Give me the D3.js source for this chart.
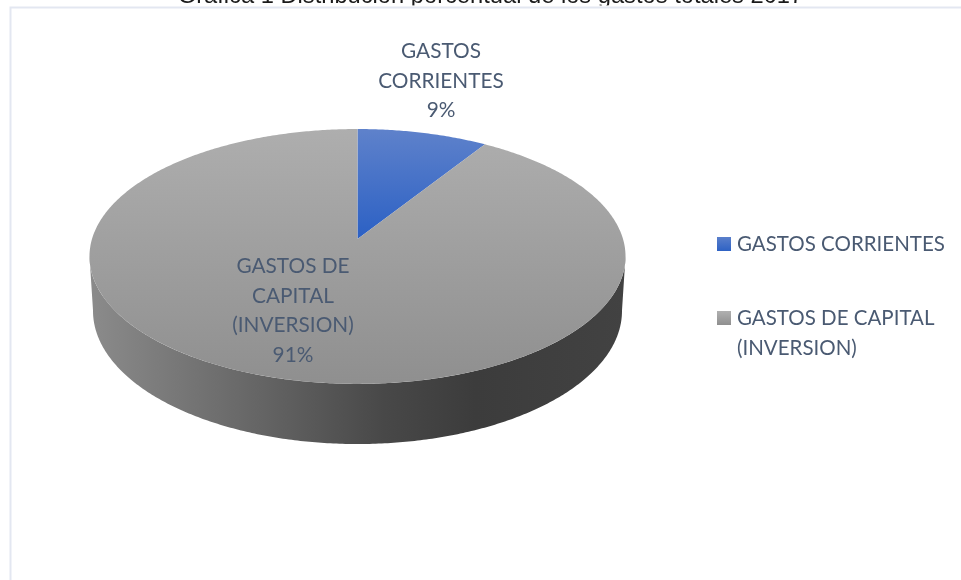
<!DOCTYPE html>
<html>
<head>
<meta charset="utf-8">
<script src="https://cdn.jsdelivr.net/npm/d3@7"></script>
<style>
  html, body { margin: 0; padding: 0; background: #fff; overflow: hidden; }
  svg { display: block; filter: blur(0.35px); }
  .lbl { font-family: Lato, sans-serif; fill: #4a5a72; }
</style>
</head>
<body>
<div id="chart"></div>
<script>
// Data
const titleText = "Gráfica 1 Distribución porcentual de los gastos totales 2017";
const categories = ["GASTOS CORRIENTES", "GASTOS DE CAPITAL (INVERSION)"];
const shares = [9, 91];
const labelLines = [["GASTOS", "CORRIENTES", "9%"], ["GASTOS DE", "CAPITAL", "(INVERSION)", "91%"]];
const legendLines = [["GASTOS CORRIENTES"], ["GASTOS DE CAPITAL", "(INVERSION)"]];

const width = 961;
const height = 580;

const svg = d3
  .select("#chart")
  .append("svg")
  .attr("width", width)
  .attr("height", height)
  .attr("viewBox", `0 0 ${width} ${height}`);

// Gradients
const defs = svg.append("defs");
function gradient(id, units, coords, stops) {
  const g = defs.append("linearGradient").attr("id", id).attr("gradientUnits", units);
  Object.entries(coords).forEach(([k, v]) => g.attr(k, v));
  stops.forEach(([o, c]) => g.append("stop").attr("offset", o).attr("stop-color", c));
}
gradient("topGrey", "userSpaceOnUse", { x1: 0, y1: 128, x2: 0, y2: 384 }, [[0, "#aeaeae"], [1, "#8f8f8f"]]);
gradient("topBlue", "userSpaceOnUse", { x1: 0, y1: 128, x2: 0, y2: 240 }, [[0, "#5f82cb"], [1, "#2b60c4"]]);
gradient("side", "userSpaceOnUse", { x1: 90, y1: 0, x2: 625, y2: 0 }, [
  [0, "#8b8b8b"], [0.3, "#676767"], [0.55, "#484848"], [0.72, "#3c3c3c"], [1, "#424242"],
]);
gradient("swBlue", "objectBoundingBox", { x1: 0, y1: 0, x2: 0, y2: 1 }, [[0, "#5a7fcb"], [1, "#2e62c4"]]);
gradient("swGrey", "objectBoundingBox", { x1: 0, y1: 0, x2: 0, y2: 1 }, [[0, "#b0b0b0"], [1, "#8f8f8f"]]);

// Title, clipped by the top edge of the picture and by the pasted chart below it
svg
  .append("text")
  .attr("x", 490.5)
  .attr("y", 3.2)
  .attr("text-anchor", "middle")
  .style("font-family", "'Liberation Sans', Arial, sans-serif")
  .style("font-size", "23.7px")
  .attr("fill", "#1a1a1a")
  .text(titleText);

svg
  .append("rect")
  .attr("x", 0)
  .attr("y", 5.4)
  .attr("width", width)
  .attr("height", height)
  .attr("fill", "#fff");

// Frame of the pasted chart, cut off by the picture on the right and bottom
svg
  .append("path")
  .attr("d", `M10.5,${height} V7.5 H${width}`)
  .attr("fill", "none")
  .attr("stroke", "#e3e7f1")
  .attr("stroke-width", 2);

// Perspective projection of the pie disc: angle 0 is up, clockwise
const topDisc = { cx: 357.5, b: 239, a: -92.3, k: 0.137, A: 265.5 };
const baseDisc = { cx: 357.5, b: 292.7, a: -90.5, k: 0.137, A: 262 };

function project(disc, t, r = 1) {
  const u = r * Math.sin(t);
  const v = r * Math.cos(t);
  const w = 1 + disc.k * v;
  return [disc.cx + (disc.A * u) / w, (disc.a * v + disc.b) / w];
}

function rimPoints(disc, t0, t1) {
  const steps = Math.max(2, Math.ceil(Math.abs(t1 - t0) / 0.01));
  return d3.range(steps + 1).map((i) => project(disc, t0 + ((t1 - t0) * i) / steps));
}

const path = d3.line();
const pie = d3.pie().sort(null);
const arcs = pie(shares);
const g = svg.append("g");

// Side wall: joins the widest points of the top rim and of the base rim
const wallFrom = (Math.PI * 97.7) / 180;
const wallTo = (Math.PI * 262.3) / 180;
g.append("path")
  .attr("d", path(rimPoints(topDisc, wallFrom, wallTo).concat(rimPoints(baseDisc, wallTo, wallFrom))) + "Z")
  .attr("fill", "url(#side)");

// Top face slices
const sliceFill = ["url(#topBlue)", "url(#topGrey)"];
g.selectAll(".slice")
  .data(arcs)
  .enter()
  .append("path")
  .attr("class", "slice")
  .attr("d", (d) => path([project(topDisc, 0, 0)].concat(rimPoints(topDisc, d.startAngle, d.endAngle))) + "Z")
  .attr("fill", (d, i) => sliceFill[i]);

// Data labels
const labelPos = [{ x: 441, y: 58 }, { x: 293, y: 273 }];
const labelStep = 29.7;
labelLines.forEach((lines, i) => {
  const t = svg.append("text").attr("class", "lbl").attr("text-anchor", "middle").style("font-size", "20.8px");
  lines.forEach((s, j) => {
    t.append("tspan").attr("x", labelPos[i].x).attr("y", labelPos[i].y + j * labelStep).text(s);
  });
});

// Legend
const legendY = [237, 311];
const swatchFill = ["url(#swBlue)", "url(#swGrey)"];
const legend = svg
  .selectAll(".legend")
  .data(categories)
  .enter()
  .append("g")
  .attr("class", "legend")
  .attr("transform", (d, i) => `translate(717,${legendY[i]})`);

legend
  .append("rect")
  .attr("width", 14)
  .attr("height", 14)
  .attr("fill", (d, i) => swatchFill[i]);

legend.each(function (d, i) {
  const t = d3.select(this).append("text").attr("class", "lbl").style("font-size", "20.5px");
  legendLines[i].forEach((s, j) => {
    t.append("tspan").attr("x", 20).attr("y", 14 + j * labelStep).text(s);
  });
});
</script>
</body>
</html>
